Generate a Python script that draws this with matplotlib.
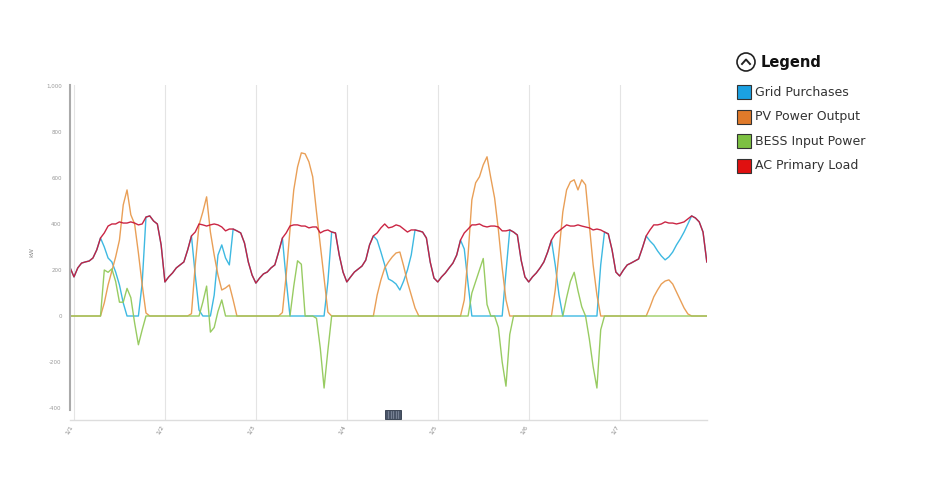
import numpy as np
import matplotlib
matplotlib.use("Agg")
import matplotlib.pyplot as plt
from matplotlib.patches import Rectangle, Ellipse
from matplotlib.lines import Line2D

# ---------------------------------------------------------------------------
# Data (kW, hourly, hour -1 .. 167)
# ---------------------------------------------------------------------------

hours = np.arange(-1, 168)

load = [
    209, 170, 209, 230, 235, 239, 252, 287, 339, 361, 391, 400, 400, 409, 404, 404, 409, 404, 396, 400, 430, 435, 413, 400, 309,
    148, 170, 187, 209, 222, 235, 287, 348, 365, 400, 396, 391, 396, 400, 396, 387, 370, 378, 378, 370, 361, 317, 235, 178,
    143, 165, 183, 191, 209, 222, 278, 339, 361, 391, 396, 396, 391, 391, 383, 387, 387, 361, 370, 374, 365, 361, 265, 191,
    148, 170, 191, 204, 217, 243, 309, 348, 361, 383, 400, 383, 387, 396, 391, 378, 365, 374, 374, 370, 365, 339, 235, 165,
    148, 170, 187, 209, 230, 265, 330, 361, 378, 396, 396, 400, 391, 387, 391, 391, 387, 370, 370, 374, 365, 352, 243, 170,
    148, 170, 187, 209, 235, 278, 330, 357, 370, 383, 396, 391, 391, 396, 391, 387, 383, 374, 378, 374, 365, 357, 287, 191,
    174, 200, 222, 230, 239, 248, 296, 348, 374, 396, 396, 400, 409, 404, 404, 400, 404, 409, 422, 435, 426, 409, 365, 235,
]

grid = [
    209, 170, 209, 230, 235, 239, 252, 287, 339, 300, 252, 235, 191, 135, 57, 0, 0, 0, 0, 143, 430, 435, 413, 400, 309,
    148, 170, 187, 209, 222, 235, 287, 348, 178, 26, 0, 0, 0, 91, 265, 309, 252, 222, 378, 370, 361, 317, 235, 178,
    143, 165, 183, 191, 209, 222, 278, 339, 157, 0, 0, 0, 0, 0, 0, 0, 0, 0, 0, 148, 365, 361, 265, 191,
    148, 170, 191, 204, 217, 243, 309, 348, 330, 278, 222, 161, 152, 139, 113, 152, 200, 265, 374, 370, 365, 339, 235, 165,
    148, 170, 187, 209, 230, 265, 330, 291, 139, 0, 0, 0, 0, 0, 0, 0, 0, 0, 191, 374, 365, 352, 243, 170,
    148, 170, 187, 209, 235, 278, 330, 222, 91, 0, 0, 0, 0, 0, 0, 0, 0, 0, 0, 222, 365, 357, 287, 191,
    174, 200, 222, 230, 239, 248, 296, 348, 326, 309, 283, 261, 244, 257, 278, 309, 335, 365, 400, 435, 426, 409, 365, 235,
]

pv = [
    0, 0, 0, 0, 0, 0, 0, 0, 0, 57, 135, 196, 257, 330, 483, 548, 440, 400, 274, 135, 13, 0, 0, 0, 0,
    0, 0, 0, 0, 0, 0, 0, 10, 222, 396, 452, 518, 365, 265, 178, 113, 122, 135, 70, 0, 0, 0, 0, 0,
    0, 0, 0, 0, 0, 0, 0, 15, 178, 374, 548, 648, 709, 705, 670, 605, 452, 309, 165, 17, 0, 0, 0, 0,
    0, 0, 0, 0, 0, 0, 0, 0, 91, 157, 209, 235, 257, 274, 278, 217, 148, 91, 35, 0, 0, 0, 0, 0,
    0, 0, 0, 0, 0, 0, 0, 70, 265, 505, 579, 605, 657, 692, 600, 513, 374, 209, 70, 0, 0, 0, 0, 0,
    0, 0, 0, 0, 0, 0, 0, 113, 278, 452, 548, 583, 592, 548, 592, 570, 396, 222, 91, 0, 0, 0, 0, 0,
    0, 0, 0, 0, 0, 0, 0, 0, 39, 83, 113, 139, 152, 157, 139, 104, 70, 35, 9, 0, 0, 0, 0, 0,
]

bess = [
    0, 0, 0, 0, 0, 0, 0, 0, 0, 200, 190, 205, 150, 60, 60, 120, 80, -30, -125, -60, 0, 0, 0, 0, 0,
    0, 0, 0, 0, 0, 0, 0, 0, 0, 0, 60, 130, -70, -50, 20, 70, 0, 0, 0, 0, 0, 0, 0, 0,
    0, 0, 0, 0, 0, 0, 0, 0, 0, 0, 130, 240, 225, 0, 0, 0, -10, -140, -313, -150, 0, 0, 0, 0,
    0, 0, 0, 0, 0, 0, 0, 0, 0, 0, 0, 0, 0, 0, 0, 0, 0, 0, 0, 0, 0, 0, 0, 0,
    0, 0, 0, 0, 0, 0, 0, 0, 0, 100, 150, 200, 250, 50, 0, 0, -50, -200, -305, -80, 0, 0, 0, 0,
    0, 0, 0, 0, 0, 0, 0, 0, 0, 0, 80, 150, 190, 110, 40, 0, -100, -220, -313, -60, 0, 0, 0, 0,
    0, 0, 0, 0, 0, 0, 0, 0, 0, 0, 0, 0, 0, 0, 0, 0, 0, 0, 0, 0, 0, 0, 0, 0,
]

day_ticks = [0, 24, 48, 72, 96, 120, 144]
day_labels = ["1/1", "1/2", "1/3", "1/4", "1/5", "1/6", "1/7"]
y_ticks = [-400, -200, 0, 200, 400, 600, 800, 1000]
y_labels = ["-400", "-200", "0", "200", "400", "600", "800", "1,000"]

series_names = ["Grid Purchases", "PV Power Output", "BESS Input Power", "AC Primary Load"]
series_colors = ["#1ba1e2", "#e07a2a", "#7dc142", "#e01010"]
line_colors = ["#33b5e0", "#e89a4e", "#93c95a", "#c81a3a"]

# ---------------------------------------------------------------------------
# Plot
# ---------------------------------------------------------------------------

fig = plt.figure(figsize=(9.3, 4.92), dpi=100)
ax = fig.add_axes([70 / 930, 1 - 420 / 492, 637 / 930, 335 / 492])

for values, color in zip([grid, pv, bess, load], line_colors):
    ax.plot(hours, values, color=color, lw=1.0, alpha=0.95)

ax.set_xlim(-1.05, 167.05)
ax.set_ylim(-452, 1004)

ax.set_xticks(day_ticks)
ax.set_xticklabels(day_labels, rotation=60, ha="right", fontsize=4.5, color="#888888")
ax.set_yticks(y_ticks)
ax.set_yticklabels(y_labels, fontsize=4, color="#999999")
ax.tick_params(axis="y", length=0, pad=6)
ax.tick_params(axis="x", length=0, pad=3)
ax.set_ylabel("kW", fontsize=4.5, color="#888888", labelpad=8)

ax.grid(True, axis="x", color="#e4e4e4", lw=0.8)
ax.set_axisbelow(True)
for side in ["top", "right"]:
    ax.spines[side].set_visible(False)
ax.spines["left"].set_color("#aaaaaa")
ax.spines["left"].set_linewidth(1.5)
ax.spines["left"].set_bounds(-410, 1004)
ax.spines["bottom"].set_color("#dddddd")
ax.spines["bottom"].set_linewidth(1.0)

# scrollbar thumb
fig.add_artist(Rectangle((385 / 930, 1 - 419 / 492), 16 / 930, 9 / 492,
                         transform=fig.transFigure, facecolor="#4a5568", edgecolor="#2d3748", lw=0.6))
for k in range(5):
    xs = (388 + k * 2.5) / 930
    fig.add_artist(Line2D([xs, xs], [1 - 418 / 492, 1 - 411 / 492],
                          transform=fig.transFigure, color="#8a94a6", lw=0.5))

# legend
fig.add_artist(Ellipse((746 / 930, 1 - 62 / 492), 18 / 930, 18 / 492, transform=fig.transFigure,
                       facecolor="white", edgecolor="#222222", lw=1.2))
fig.add_artist(Line2D([742 / 930, 746 / 930, 750 / 930],
                      [1 - 64 / 492, 1 - 59.5 / 492, 1 - 64 / 492],
                      transform=fig.transFigure, color="#222222", lw=1.4))
fig.text(761 / 930, 1 - 62 / 492, "Legend", fontsize=10.5, fontweight="bold",
         va="center", ha="left", color="#111111")

for i, (name, color) in enumerate(zip(series_names, series_colors)):
    yc = 92 + i * 24.6
    fig.add_artist(Rectangle((737 / 930, 1 - (yc + 7) / 492), 14 / 930, 14 / 492,
                             transform=fig.transFigure, facecolor=color, edgecolor="#333333", lw=0.8))
    fig.text(755 / 930, 1 - yc / 492, name, fontsize=9, va="center", ha="left", color="#333333")

fig.savefig("out.png", dpi=100)
